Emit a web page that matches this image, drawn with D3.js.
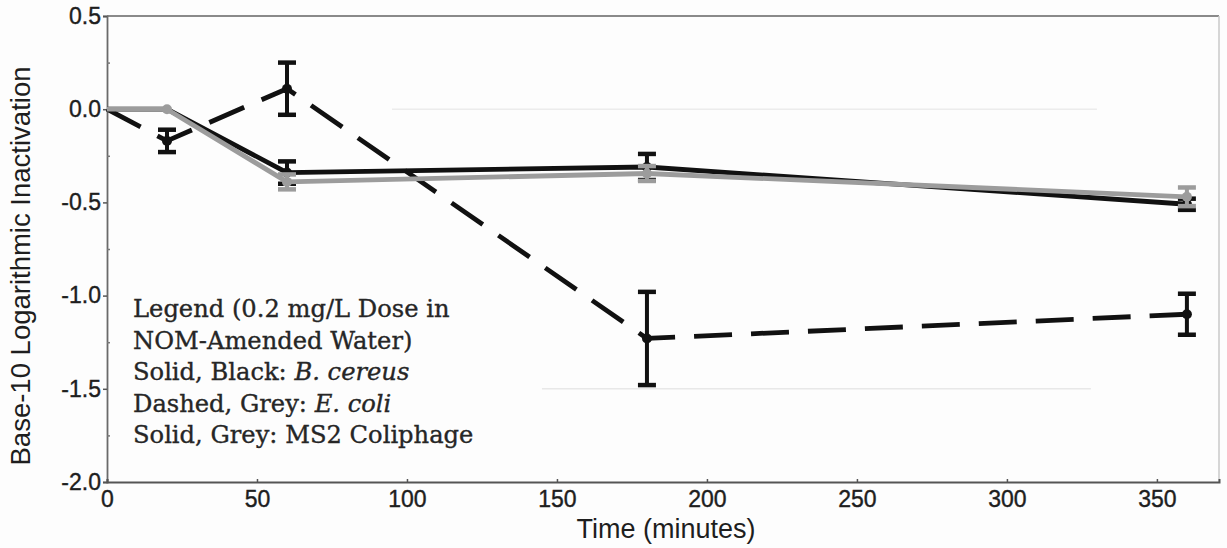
<!DOCTYPE html>
<html>
<head>
<meta charset="utf-8">
<script src="https://cdn.jsdelivr.net/npm/d3@7"></script>
<style>
  html, body { margin: 0; padding: 0; background: #fdfdfd; }
  svg { display: block; }
</style>
</head>
<body>
<svg id="chart" width="1227" height="548"></svg>
<script>
// Sampling times (minutes)
const times = [0, 20, 60, 180, 360];

// Mean log10 inactivation per organism
const bCereus = [0, 0, -0.34, -0.31, -0.51];
const bCereusErr = [0, 0, 0.06, 0.07, 0.03];

const eColi = [0, -0.17, 0.11, -1.23, -1.10];
const eColiErr = [0, 0.06, 0.14, 0.25, 0.11];

const ms2 = [0, 0, -0.39, -0.345, -0.47];
const ms2Err = [0, 0, 0.04, 0.04, 0.05];

// Axis ticks
const xTicks = [0, 50, 100, 150, 200, 250, 300, 350];
const yTicks = [0.5, 0.0, -0.5, -1.0, -1.5, -2.0];
const yMinor = [0.25, -0.25, -0.75, -1.25, -1.75];

const legendLines = [
  [{t: "Legend (0.2 mg/L Dose in"}],
  [{t: "NOM-Amended Water)"}],
  [{t: "Solid, Black: "}, {t: "B. cereus", i: true}],
  [{t: "Dashed, Grey: "}, {t: "E. coli", i: true}],
  [{t: "Solid, Grey: MS2 Coliphage"}]
];

const svg = d3.select("#chart");
const plotL = 107, plotR = 1219, plotT = 16, plotB = 482;
const sans = "Liberation Sans, Arial, sans-serif";

const x = d3.scaleLinear().domain([0, 370.7]).range([plotL, plotR]);
const y = d3.scaleLinear().domain([-2, 0.5]).range([plotB, plotT]);

// Frame
svg.append("line").attr("x1", plotL).attr("x2", plotR).attr("y1", plotT).attr("y2", plotT)
  .attr("stroke", "#8a8a8a").attr("stroke-width", 2);
svg.append("line").attr("x1", plotR).attr("x2", plotR).attr("y1", plotT).attr("y2", plotB)
  .attr("stroke", "#c8c8c8").attr("stroke-width", 1.5);

// Faint gridlines
svg.append("line").attr("x1", x(95)).attr("x2", x(330)).attr("y1", y(0)).attr("y2", y(0))
  .attr("stroke", "#ececec").attr("stroke-width", 1.5);
svg.append("line").attr("x1", x(145)).attr("x2", x(328)).attr("y1", y(-1.5)).attr("y2", y(-1.5))
  .attr("stroke", "#e8e8e8").attr("stroke-width", 1.5);

// Y axis
const yAxis = d3.axisLeft(y).tickValues(yTicks).tickSize(4).tickPadding(2)
  .tickFormat(d => d3.format(".1f")(d).replace("\u2212", "-"));
const gy = svg.append("g").attr("transform", `translate(${plotL},0)`).call(yAxis);
gy.select(".domain").attr("stroke", "#6a6a6a").attr("stroke-width", 1.8);
gy.selectAll(".tick line").attr("stroke", "#555").attr("stroke-width", 1.5);
gy.selectAll(".tick text").attr("font-family", sans)
  .attr("font-size", 23).attr("fill", "#1e1e1e")
  .attr("stroke", "#1e1e1e").attr("stroke-width", 0.4);

const yMinorAxis = d3.axisRight(y).tickValues(yMinor).tickSize(3).tickFormat("");
const gym = svg.append("g").attr("transform", `translate(${plotL},0)`).call(yMinorAxis);
gym.select(".domain").remove();
gym.selectAll(".tick line").attr("stroke", "#777").attr("stroke-width", 1.5);

// X axis
const xAxis = d3.axisBottom(x).tickValues(xTicks).tickSize(-3).tickPadding(9);
const gx = svg.append("g").attr("transform", `translate(0,${plotB})`).call(xAxis);
gx.select(".domain").attr("stroke", "#555").attr("stroke-width", 2);
gx.selectAll(".tick line").attr("stroke", "#555").attr("stroke-width", 1.5);
gx.selectAll(".tick text").attr("font-family", sans)
  .attr("font-size", 23).attr("fill", "#1e1e1e")
  .attr("stroke", "#1e1e1e").attr("stroke-width", 0.4);

// Axis titles
svg.append("text").attr("x", 666).attr("y", 538).attr("text-anchor", "middle")
  .attr("font-family", sans).attr("font-size", 27)
  .attr("fill", "#1e1e1e").text("Time (minutes)");
svg.append("text").attr("transform", "translate(30,266) rotate(-90)")
  .attr("text-anchor", "middle")
  .attr("font-family", sans).attr("font-size", 27.5)
  .attr("fill", "#1e1e1e").text("Base-10 Logarithmic Inactivation");

// Series drawing: line, error bars with caps, point markers
function series(vals, errs, color, dash, marker) {
  const pts = times.map((t, i) => ({t, v: vals[i], e: errs[i]}));
  const line = d3.line().x(d => x(d.t)).y(d => y(d.v));
  const g = svg.append("g");
  g.append("path").datum(pts).attr("d", line).attr("fill", "none")
    .attr("stroke", color).attr("stroke-width", 4.8)
    .attr("stroke-dasharray", dash || null).attr("stroke-linejoin", "round");
  const eb = pts.filter(d => d.e > 0);
  g.selectAll(".eb").data(eb).join("line")
    .attr("x1", d => x(d.t)).attr("x2", d => x(d.t))
    .attr("y1", d => y(d.v + d.e)).attr("y2", d => y(d.v - d.e))
    .attr("stroke", color).attr("stroke-width", 4);
  ["top", "bot"].forEach(k => {
    g.selectAll(".cap" + k).data(eb).join("line")
      .attr("x1", d => x(d.t) - 9).attr("x2", d => x(d.t) + 9)
      .attr("y1", d => y(k === "top" ? d.v + d.e : d.v - d.e))
      .attr("y2", d => y(k === "top" ? d.v + d.e : d.v - d.e))
      .attr("stroke", color).attr("stroke-width", 4.5);
  });
  g.selectAll(".pt").data(pts.filter(marker)).join("circle")
    .attr("cx", d => x(d.t)).attr("cy", d => y(d.v)).attr("r", 5)
    .attr("fill", color);
}

series(eColi, eColiErr, "#111", "38,19", d => d.t > 0);
series(bCereus, bCereusErr, "#111", null, d => d.t > 20);
series(ms2, ms2Err, "#9c9c9c", null, d => d.t > 0);

// Legend text block
const lg = svg.append("text").attr("font-family", "DejaVu Serif, Liberation Serif, serif")
  .attr("font-size", 24.2).attr("fill", "#262626")
  .attr("stroke", "#262626").attr("stroke-width", 0.35);
legendLines.forEach((parts, i) => {
  const row = lg.append("tspan").attr("x", 133).attr("y", 317 + i * 31.5);
  parts.forEach(p => {
    row.append("tspan").attr("font-style", p.i ? "italic" : "normal").text(p.t);
  });
});
</script>
</body>
</html>
